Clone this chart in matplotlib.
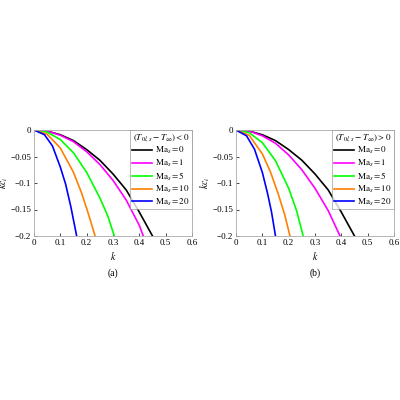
import matplotlib
matplotlib.use("Agg")
import matplotlib.pyplot as plt

plt.rcParams['font.family'] = ['Liberation Serif', 'DejaVu Serif']
plt.rcParams['mathtext.fontset'] = 'stix'

labels = [r'$\mathrm{Ma}_s=0$', r'$\mathrm{Ma}_s=1$', r'$\mathrm{Ma}_s=5$', r'$\mathrm{Ma}_s=10$', r'$\mathrm{Ma}_s=20$']
colors = ['black', '#ff00ff', '#00ff00', '#ff8000', '#0000ff']

a_k = [
    [0, 0.05, 0.1, 0.15, 0.2, 0.25, 0.3, 0.35, 0.4, 0.45],
    [0, 0.05, 0.1, 0.15, 0.2, 0.25, 0.3, 0.35, 0.4, 0.415],
    [0, 0.05, 0.1, 0.15, 0.2, 0.25, 0.28, 0.305],
    [0, 0.05, 0.1, 0.15, 0.18, 0.2, 0.215, 0.232],
    [0, 0.04, 0.07, 0.1, 0.12, 0.14, 0.162],
]
a_y = [
    [0, -0.002, -0.009, -0.02, -0.037, -0.057, -0.083, -0.113, -0.155, -0.2],
    [0, -0.002, -0.01, -0.022, -0.041, -0.065, -0.095, -0.132, -0.18, -0.2],
    [0, -0.004, -0.018, -0.043, -0.08, -0.128, -0.162, -0.2],
    [0, -0.008, -0.034, -0.08, -0.118, -0.148, -0.172, -0.2],
    [0, -0.009, -0.03, -0.07, -0.102, -0.145, -0.2],
]
b_k = [
    [0, 0.05, 0.1, 0.15, 0.2, 0.25, 0.3, 0.35, 0.4, 0.45],
    [0, 0.05, 0.1, 0.15, 0.2, 0.25, 0.3, 0.35, 0.395],
    [0, 0.05, 0.1, 0.15, 0.2, 0.23, 0.255],
    [0, 0.05, 0.1, 0.13, 0.16, 0.185, 0.205],
    [0, 0.04, 0.07, 0.1, 0.12, 0.135, 0.15],
]
b_y = [
    [0, -0.002, -0.009, -0.02, -0.037, -0.057, -0.083, -0.113, -0.155, -0.2],
    [0, -0.002, -0.011, -0.025, -0.047, -0.075, -0.11, -0.152, -0.2],
    [0, -0.005, -0.024, -0.058, -0.11, -0.152, -0.2],
    [0, -0.01, -0.045, -0.078, -0.12, -0.16, -0.2],
    [0, -0.011, -0.036, -0.08, -0.12, -0.155, -0.2],
]
titles = [r'$(T_{0l,s}-T_{\infty})<0$', r'$(T_{0l,s}-T_{\infty})>0$']
panels = ['(a)', '(b)']

fig = plt.figure(figsize=(4, 4), dpi=100)
for i, (ks, ys) in enumerate([(a_k, a_y), (b_k, b_y)]):
    ax = fig.add_axes([0.085 + i * 0.505, 0.41, 0.395, 0.265])
    for k, y, c, l in zip(ks, ys, colors, labels):
        ax.plot(k, y, color=c, lw=1.2, label=l)
    ax.set_xlim(0, 0.6)
    ax.set_ylim(-0.2, 0)
    ax.set_xticks([0, 0.1, 0.2, 0.3, 0.4, 0.5, 0.6])
    ax.set_xticklabels(['0', '0.1', '0.2', '0.3', '0.4', '0.5', '0.6'])
    ax.set_yticks([0, -0.05, -0.1, -0.15, -0.2])
    ax.set_yticklabels(['0', '−0.05', '−0.1', '−0.15', '−0.2'])
    ax.tick_params(labelsize=6.5, length=2, width=0.5, direction='in', pad=2)
    for s in ax.spines.values():
        s.set_color('#aaaaaa'); s.set_linewidth(0.6)
    ax.set_xlabel(r'$k$', fontsize=7, labelpad=2)
    ax.set_ylabel(r'$kc_i$', fontsize=7, labelpad=0)
    leg = ax.legend(title=titles[i], fontsize=6.5, title_fontsize=6.5, loc='upper right',
                    frameon=True, fancybox=False, edgecolor='#888888', borderpad=0.2,
                    labelspacing=0.15, handlelength=2.2, handletextpad=0.4, borderaxespad=0.05)
    leg.get_frame().set_linewidth(0.5)
    ax.text(0.5, -0.31, panels[i], transform=ax.transAxes, ha='center', va='top', fontsize=7)

fig.savefig('out.png', dpi=100)
